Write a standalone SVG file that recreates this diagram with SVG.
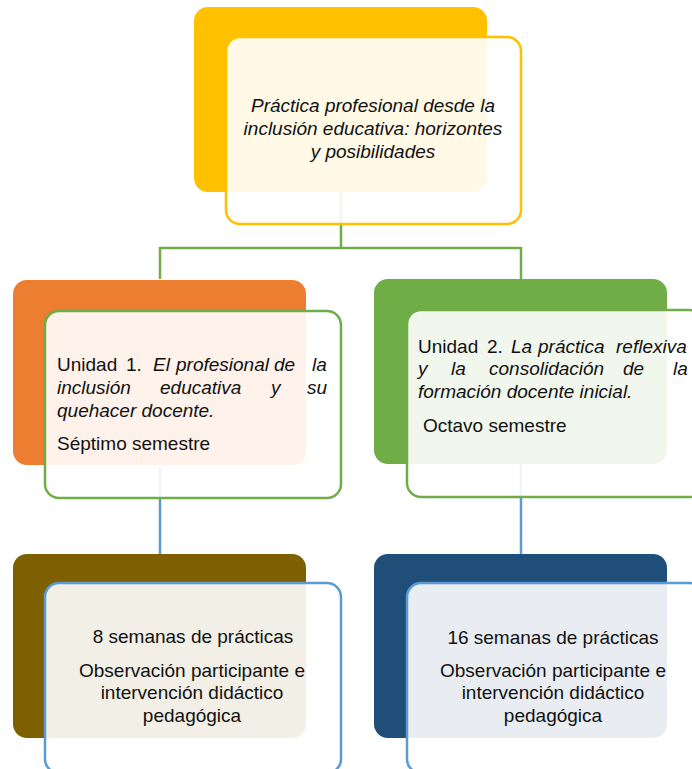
<svg xmlns="http://www.w3.org/2000/svg" width="692" height="769" viewBox="0 0 692 769">
  <style>
    .back { stroke: none; }
    .front { fill: #ffffff; fill-opacity: 0.9; stroke-width: 2.5; }
    .t { font-family: "Liberation Sans", Arial, sans-serif; font-size: 19px; fill: #111111; }
    .i { font-style: italic; }
    .c { text-anchor: middle; }
    .lg { fill: none; stroke: #70AD47; stroke-width: 2.5; }
    .lb { fill: none; stroke: #5B9BD5; stroke-width: 2.5; }
  </style>

  <!-- connectors -->
  <g id="connectors">
    <path class="lg" d="M341 192 V248 M160 248 H521 M160 247 V279 M521 247 V279"/>
    <path class="lb" d="M160 466 V555 M521 464 V555"/>
  </g>

  <!-- top node -->
  <g id="node-top">
    <rect class="back" x="194" y="7" width="293" height="185" rx="14" fill="#FFC000"/>
    <rect class="front" x="226" y="37" width="295" height="187" rx="14" stroke="#FFC000"/>
    <text class="t i c" x="373" y="112">Práctica profesional desde la</text>
    <text class="t i c" x="373" y="135">inclusión educativa: horizontes</text>
    <text class="t i c" x="373" y="158">y posibilidades</text>
  </g>

  <!-- unit 1 -->
  <g id="node-unidad1">
    <rect class="back" x="13" y="280" width="293" height="185" rx="14" fill="#ED7D31"/>
    <rect class="front" x="45" y="311" width="296" height="187" rx="14" stroke="#70AD47"/>
    <text class="t" y="371"><tspan x="57">Unidad</tspan><tspan x="126">1.</tspan><tspan class="i" x="153">El</tspan><tspan class="i" x="176">profesional</tspan><tspan class="i" x="274">de</tspan><tspan class="i" x="312">la</tspan></text>
    <text class="t i" y="394"><tspan x="57">inclusión</tspan><tspan x="160">educativa</tspan><tspan x="271">y</tspan><tspan x="307">su</tspan></text>
    <text class="t i" x="57" y="417">quehacer docente.</text>
    <text class="t" x="57" y="450">Séptimo semestre</text>
  </g>

  <!-- unit 2 -->
  <g id="node-unidad2">
    <rect class="back" x="374" y="279" width="293" height="185" rx="14" fill="#70AD47"/>
    <rect class="front" x="407" y="310" width="296" height="187" rx="14" stroke="#70AD47"/>
    <text class="t" y="353"><tspan x="418">Unidad</tspan><tspan x="487">2.</tspan><tspan class="i" x="511">La</tspan><tspan class="i" x="538">práctica</tspan><tspan class="i" x="616">reflexiva</tspan></text>
    <text class="t i" y="375"><tspan x="418">y</tspan><tspan x="451">la</tspan><tspan x="489">consolidación</tspan><tspan x="623">de</tspan><tspan x="673">la</tspan></text>
    <text class="t i" x="418" y="398">formación docente inicial.</text>
    <text class="t" x="423" y="432">Octavo semestre</text>
  </g>

  <!-- practice weeks, left -->
  <g id="node-practica1">
    <rect class="back" x="13" y="554" width="293" height="184" rx="14" fill="#7F6000"/>
    <rect class="front" x="45" y="583" width="296" height="190" rx="14" stroke="#5B9BD5"/>
    <text class="t c" x="193" y="643">8 semanas de prácticas</text>
    <text class="t c" x="192" y="677">Observación participante e</text>
    <text class="t c" x="192" y="699">intervención didáctico</text>
    <text class="t c" x="192" y="722">pedagógica</text>
  </g>

  <!-- practice weeks, right -->
  <g id="node-practica2">
    <rect class="back" x="374" y="554" width="293" height="184" rx="14" fill="#1F4E79"/>
    <rect class="front" x="407" y="583" width="296" height="190" rx="14" stroke="#5B9BD5"/>
    <text class="t c" x="553" y="644">16 semanas de prácticas</text>
    <text class="t c" x="553" y="677">Observación participante e</text>
    <text class="t c" x="553" y="699">intervención didáctico</text>
    <text class="t c" x="553" y="722">pedagógica</text>
  </g>
</svg>
